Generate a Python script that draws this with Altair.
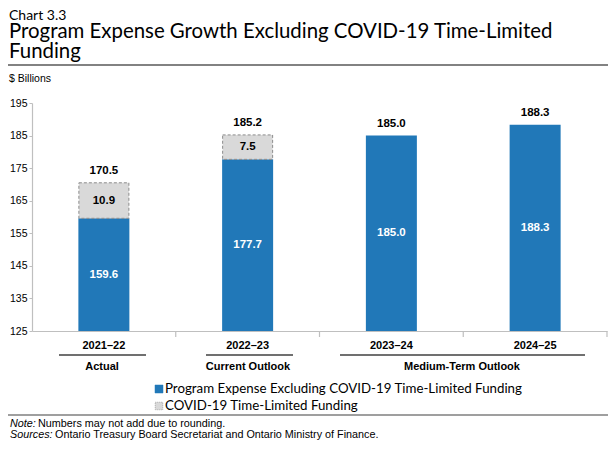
import altair as alt
import pandas as pd

# ---- data ----
categories = ["2021–22", "2022–23", "2023–24", "2024–25"]
base_values = [159.6, 177.7, 185.0, 188.3]
covid_values = [10.9, 7.5, 0.0, 0.0]
total_values = [170.5, 185.2, 185.0, 188.3]
y_ticks = [125, 135, 145, 155, 165, 175, 185, 195]
group_labels = ["Actual", "Current Outlook", "Medium-Term Outlook"]
legend_labels = ["Program Expense Excluding COVID-19 Time-Limited Funding",
                 "COVID-19 Time-Limited Funding"]
chart_number = "Chart 3.3"
title_lines = ["Program Expense Growth Excluding COVID-19 Time-Limited", "Funding"]
unit_label = "$ Billions"
note_parts = ["Note:", "Numbers may not add due to rounding."]
source_parts = ["Sources:", "Ontario Treasury Board Secretariat and Ontario Ministry of Finance."]

# ---- styles / layout ----
BLUE = "#2178B8"
GREY = "#D9D9D9"
AXIS_GREY = "#BFBFBF"
SANS = "Liberation Sans"
TITLE_FONT = "Lato"
PLOT_X, PLOT_Y = 32, 103          # page position of the plot's top-left corner
W, H = 575, 228
Y_MIN, Y_MAX = y_ticks[0], y_ticks[-1]


def px(page_x):
    return page_x - PLOT_X


def py(page_y):
    return page_y - PLOT_Y


df = pd.DataFrame({
    "cat": categories,
    "base": base_values,
    "covid": covid_values,
    "total": total_values,
})

x_enc = alt.X("cat:N", sort=categories,
              scale=alt.Scale(paddingInner=0, paddingOuter=0),
              axis=alt.Axis(title=None, ticks=False, labelAngle=0, labelPadding=8,
                            labelBaseline="top", labelFont=SANS, labelFontSize=11,
                            labelFontWeight="bold", labelColor="black",
                            domainColor=AXIS_GREY, domainWidth=1.2))
y_scale = alt.Scale(domain=[Y_MIN, Y_MAX], zero=False, nice=False)
y_axis = alt.Axis(title=None, values=y_ticks, grid=False, tickSize=3, labelPadding=2,
                  labelOverlap=False, labelFont=SANS, labelFontSize=10.5,
                  labelColor="black", domainColor=AXIS_GREY, tickColor=AXIS_GREY,
                  domainWidth=1.2)

base = alt.Chart(df).transform_calculate(
    base_mid=f"({Y_MIN} + datum.base) / 2",
    covid_mid="datum.base + datum.covid / 2",
    base_txt="format(datum.base, '.1f')",
    covid_txt="format(datum.covid, '.1f')",
    total_txt="format(datum.total, '.1f')",
)

y_base = alt.Y("base:Q", scale=y_scale, axis=y_axis)

blue_bars = base.mark_bar(color=BLUE, size=51, clip=True).encode(x=x_enc, y=y_base)

covid_bars = base.transform_filter("datum.covid > 0").mark_bar(
    fill=GREY, stroke="#8C8C8C", strokeDash=[3, 2], strokeWidth=1, size=50).encode(
    x=x_enc, y=y_base, y2="total:Q")

base_lbl = base.mark_text(color="white", font=SANS, fontSize=11.5, fontWeight="bold").encode(
    x=x_enc, y=alt.Y("base_mid:Q", scale=y_scale, axis=y_axis), text="base_txt:N")

covid_lbl = base.transform_filter("datum.covid > 0").mark_text(
    color="black", font=SANS, fontSize=11.5, fontWeight="bold").encode(
    x=x_enc, y=alt.Y("covid_mid:Q", scale=y_scale, axis=y_axis), text="covid_txt:N")

total_lbl = base.mark_text(color="black", font=SANS, fontSize=11.5, fontWeight="bold",
                           dy=-12).encode(
    x=x_enc, y=alt.Y("total:Q", scale=y_scale, axis=y_axis), text="total_txt:N")

# category boundary ticks on the x axis
tick_df = pd.DataFrame({"cat": categories})
ticks_start = alt.Chart(tick_df).transform_filter(
    alt.FieldOneOfPredicate(field="cat", oneOf=categories[1:])).mark_rule(
    color=AXIS_GREY, strokeWidth=1.2).encode(
    x=alt.X("cat:N", sort=categories, bandPosition=0), y=alt.value(H), y2=alt.value(H + 6))
ticks_end = alt.Chart(tick_df).transform_filter(
    alt.FieldEqualPredicate(field="cat", equal=categories[-1])).mark_rule(
    color=AXIS_GREY, strokeWidth=1.2).encode(
    x=alt.X("cat:N", sort=categories, bandPosition=1), y=alt.value(H), y2=alt.value(H + 6))


def text_layer(txt, x, y, **props):
    return alt.Chart(pd.DataFrame({"t": [txt]})).mark_text(**props).encode(
        x=alt.value(x), y=alt.value(y), text="t:N")


def hline(x1, x2, y, color, width):
    return alt.Chart(pd.DataFrame({"a": [0]})).mark_rule(color=color, strokeWidth=width).encode(
        x=alt.value(x1), x2=alt.value(x2), y=alt.value(y))


layers = [blue_bars, covid_bars, base_lbl, covid_lbl, total_lbl, ticks_start, ticks_end]

# header
layers.append(text_layer(chart_number, px(9), py(16), align="left", baseline="middle",
                         font=TITLE_FONT, fontSize=14, color="black"))
layers.append(text_layer(title_lines[0], px(9), py(32), align="left", baseline="middle",
                         font=TITLE_FONT, fontSize=20.4, color="black"))
layers.append(text_layer(title_lines[1], px(9), py(52), align="left", baseline="middle",
                         font=TITLE_FONT, fontSize=20.4, color="black"))
layers.append(hline(px(8), px(608), py(65), "#595959", 1.5))
layers.append(text_layer(unit_label, px(9), py(79), align="left", baseline="middle",
                         font=SANS, fontSize=10.5, color="black"))

# group labels and underlines
group_x = [102, 248, 462]
group_line = [(59, 146), (206, 293), (340, 585)]
for lbl, gx, (l1, l2) in zip(group_labels, group_x, group_line):
    layers.append(hline(px(l1), px(l2), py(355), "#404040", 1.5))
    layers.append(text_layer(lbl, px(gx), py(367), align="center", baseline="middle",
                             font=SANS, fontSize=11, fontWeight="bold", color="black"))

# legend
leg_y = [389, 406]
layers.append(alt.Chart(pd.DataFrame({"a": [0]})).mark_square(
    size=64, fill=BLUE, opacity=1, stroke=BLUE, strokeWidth=0.5).encode(
    x=alt.value(px(159)), y=alt.value(py(leg_y[0]))))
layers.append(alt.Chart(pd.DataFrame({"a": [0]})).mark_square(
    size=56, fill=GREY, opacity=1, stroke="#A6A6A6", strokeDash=[1, 1], strokeWidth=1).encode(
    x=alt.value(px(159)), y=alt.value(py(leg_y[1]))))
for lbl, ly in zip(legend_labels, leg_y):
    layers.append(text_layer(lbl, px(165), py(ly), align="left", baseline="middle",
                             font=TITLE_FONT, fontSize=13.3, color="black"))

# footer
layers.append(hline(px(8), px(608), py(415), "#7F7F7F", 1.5))
layers.append(text_layer(note_parts[0], px(10), py(424), align="left", baseline="middle",
                         font=SANS, fontSize=10.8, fontStyle="italic", color="black"))
layers.append(text_layer(note_parts[1], px(38), py(424), align="left", baseline="middle",
                         font=SANS, fontSize=10.8, color="black"))
layers.append(text_layer(source_parts[0], px(10), py(435), align="left", baseline="middle",
                         font=SANS, fontSize=10.8, fontStyle="italic", color="black"))
layers.append(text_layer(source_parts[1], px(55), py(435), align="left", baseline="middle",
                         font=SANS, fontSize=10.8, color="black"))

chart = alt.layer(*layers).properties(
    width=W, height=H,
    padding={"left": PLOT_X - 8, "top": PLOT_Y - 8, "right": 608 - PLOT_X - W, "bottom": 110},
    autosize=alt.AutoSizeParams(type="none"),
).configure_view(stroke=None).configure_axisY(labelOverlap=False)

chart.save("out.html", embed_options={"renderer": "svg", "actions": False})
